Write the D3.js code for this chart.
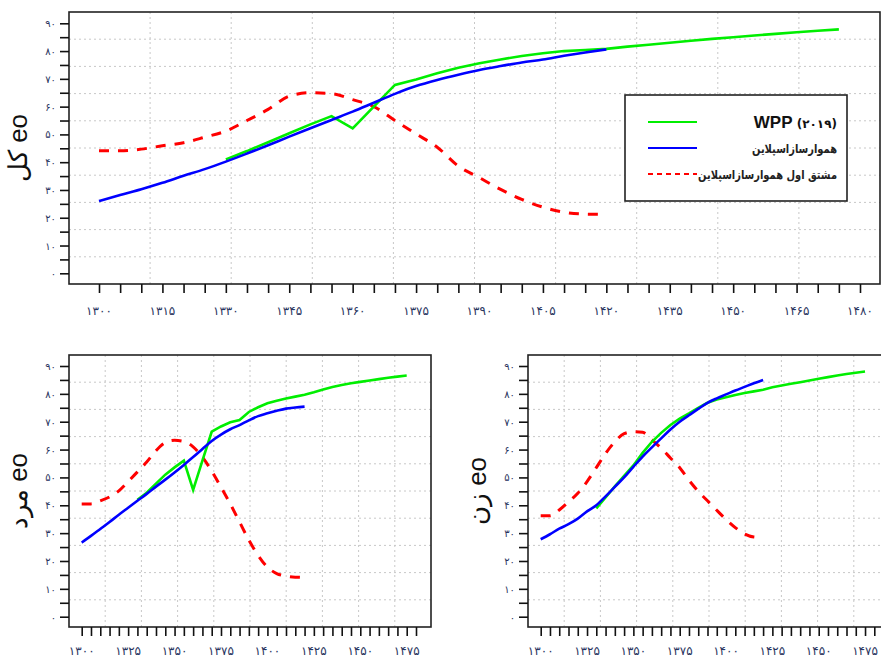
<!DOCTYPE html>
<html>
<head>
<meta charset="utf-8">
<script src="https://cdn.jsdelivr.net/npm/d3@7"></script>
<style>
  body { margin: 0; background: #fff; }
  svg { display: block; font-family: "DejaVu Sans", sans-serif; }
</style>
</head>
<body>
<div id="chart"></div>
<script>
var svgWidth = 881;
var svgHeight = 659;

// years of the spline series and of the WPP series
var splineYears = [1300, 1305, 1310, 1315, 1320, 1325, 1330, 1335, 1340, 1345, 1350, 1355, 1360,
  1365, 1370, 1375, 1380, 1385, 1390, 1395, 1400, 1405, 1410, 1415, 1420];
var wppYears = [1330, 1335, 1340, 1345, 1350, 1355, 1360, 1365, 1370, 1375, 1380, 1385, 1390,
  1395, 1400, 1405, 1410, 1415, 1420, 1425, 1430, 1435, 1440, 1445, 1450, 1455, 1460, 1465, 1470, 1475];

// total
var totalWpp = [41.0, 44.0, 47.2, 50.4, 53.6, 56.6, 52.2, 60.0, 67.8, 69.8, 72.0, 74.0, 75.6,
  77.0, 78.2, 79.2, 80.0, 80.4, 80.8, 81.6, 82.3, 83.0, 83.7, 84.4, 85.0, 85.6, 86.2, 86.8, 87.3, 87.8];
var totalSpline = [26.0, 28.2, 30.3, 32.6, 35.1, 37.5, 40.2, 43.1, 46.1, 49.2, 52.2, 55.2, 58.2,
  61.4, 64.6, 67.4, 69.6, 71.5, 73.2, 74.6, 75.9, 77.0, 78.3, 79.5, 80.6];
var totalDeriv = [44.1, 44.1, 44.7, 45.9, 47.0, 49.0, 51.2, 55.0, 59.0, 63.8, 65.0, 64.7, 62.5,
  60.0, 55.0, 50.2, 45.4, 38.6, 34.4, 30.2, 26.6, 23.8, 22.0, 21.3, 21.2];

// male
var maleWpp = [42.0, 44.5, 47.8, 51.0, 53.6, 56.0, 45.5, 56.0, 66.4, 68.3, 69.8, 70.6, 73.5,
  75.2, 76.6, 77.5, 78.3, 79.0, 79.7, 80.6, 81.6, 82.5, 83.2, 83.8, 84.3, 84.8, 85.3, 85.8, 86.2, 86.6];
var maleSpline = [26.6, 29.0, 31.5, 34.0, 36.6, 39.1, 41.6, 44.1, 46.7, 49.2, 51.8, 54.5, 57.3,
  60.2, 63.1, 65.4, 67.3, 68.8, 70.5, 72.0, 73.0, 73.9, 74.7, 75.1, 75.4];
var maleDeriv = [40.5, 40.5, 41.6, 43.0, 45.2, 48.5, 52.0, 55.5, 59.6, 62.5, 63.3, 62.9, 61.0,
  57.3, 52.3, 46.5, 40.5, 34.0, 27.5, 22.0, 17.8, 15.5, 14.6, 14.2, 14.1];

// female
var femaleWpp = [38.9, 42.8, 46.8, 50.6, 54.3, 58.8, 62.8, 66.0, 68.8, 71.1, 73.0, 75.0, 76.8,
  78.0, 78.8, 79.6, 80.3, 80.9, 81.5, 82.4, 83.0, 83.6, 84.2, 84.8, 85.4, 86.0, 86.6, 87.1, 87.6, 88.0];
var femaleSpline = [27.8, 29.6, 31.6, 33.2, 35.2, 37.8, 40.0, 43.2, 46.6, 50.0, 53.8, 57.5, 60.8,
  64.0, 67.2, 70.0, 72.3, 74.6, 76.8, 78.4, 79.8, 81.2, 82.5, 83.8, 85.0];
var femaleDeriv = [36.2, 36.2, 38.3, 41.2, 44.3, 48.5, 53.5, 58.6, 62.8, 65.7, 66.4, 66.2, 63.5,
  60.5, 57.0, 53.5, 49.0, 45.0, 41.6, 38.2, 34.9, 32.0, 29.7, 28.6, 28.4];

// tick labels
var topXLabels = [1300, 1315, 1330, 1345, 1360, 1375, 1390, 1405, 1420, 1435, 1450, 1465, 1480];
var bottomXLabels = [1300, 1325, 1350, 1375, 1400, 1425, 1450, 1475];
var yLabels = [0, 10, 20, 30, 40, 50, 60, 70, 80, 90];

var legendLabels = ["WPP", "هموارسازاسپلاین", "مشتق اول هموارسازاسپلاین"];

var svg = d3.select("#chart")
  .append("svg")
  .attr("width", svgWidth)
  .attr("height", svgHeight);

function toFa(n) {
  return String(n).replace(/[0-9]/g, d => "۰۱۲۳۴۵۶۷۸۹"[+d]);
}

function drawPanel(p) {
  var x = d3.scaleLinear().domain([1300, 1480]).range(p.xRange);
  var y = d3.scaleLinear().domain([0, 90]).range(p.yRange);
  var g = svg.append("g");

  // dotted grid: 10 equal cells inside the box
  for (var i = 1; i < 10; i++) {
    var gx = p.left + (p.right - p.left) * i / 10;
    var gy = p.top + (p.bottom - p.top) * i / 10;
    g.append("line").attr("class", "grid")
      .attr("x1", gx).attr("x2", gx).attr("y1", p.top).attr("y2", p.bottom);
    g.append("line").attr("class", "grid")
      .attr("x1", p.left).attr("x2", p.right).attr("y1", gy).attr("y2", gy);
  }
  g.selectAll(".grid")
    .attr("stroke", "#c8c8c8")
    .attr("stroke-width", 1)
    .attr("stroke-dasharray", "2,3");

  var line = d3.line()
    .x((d, i) => x(d[0]))
    .y(d => y(d[1]));

  g.append("path")
    .datum(d3.zip(splineYears, p.deriv))
    .attr("fill", "none")
    .attr("stroke", "#ff0000")
    .attr("stroke-width", 3)
    .attr("stroke-dasharray", "10,9")
    .attr("d", line.curve(d3.curveMonotoneX));

  g.append("path")
    .datum(d3.zip(wppYears, p.wpp))
    .attr("fill", "none")
    .attr("stroke", "#00ee00")
    .attr("stroke-width", 2.6)
    .attr("d", line.curve(d3.curveLinear));

  g.append("path")
    .datum(d3.zip(splineYears, p.spline))
    .attr("fill", "none")
    .attr("stroke", "#0000ff")
    .attr("stroke-width", 2.6)
    .attr("d", line.curve(d3.curveMonotoneX));

  // box
  g.append("rect")
    .attr("x", p.left).attr("y", p.top)
    .attr("width", p.right - p.left).attr("height", p.bottom - p.top)
    .attr("fill", "none")
    .attr("stroke", "#222")
    .attr("stroke-width", 1.6);

  // x axis ticks every 5 years, hanging below the box
  var xAxis = d3.axisBottom(x)
    .tickValues(d3.range(1300, 1481, 5))
    .tickSize(9)
    .tickFormat("");
  var xg = g.append("g")
    .attr("transform", `translate(0, ${p.bottom})`)
    .call(xAxis);
  xg.select(".domain").remove();
  xg.selectAll("line").attr("stroke", "#111").attr("stroke-width", 1.6);

  g.selectAll(".xlab")
    .data(p.xLabels)
    .enter()
    .append("text")
    .attr("class", "xlab")
    .attr("x", d => x(d))
    .attr("y", p.bottom + p.labelGap)
    .attr("text-anchor", "middle")
    .attr("font-size", 12)
    .attr("fill", "#2a3560")
    .text(d => toFa(d));

  var yAxis = d3.axisLeft(y)
    .tickValues(d3.range(0, 91, 5))
    .tickSize(9)
    .tickFormat("");
  var yg = g.append("g")
    .attr("transform", `translate(${p.left}, 0)`)
    .call(yAxis);
  yg.select(".domain").remove();
  yg.selectAll("line").attr("stroke", "#111").attr("stroke-width", 1.6);

  g.selectAll(".ylab")
    .data(yLabels)
    .enter()
    .append("text")
    .attr("class", "ylab")
    .attr("x", p.left - 13)
    .attr("y", d => y(d) + 4)
    .attr("text-anchor", "end")
    .attr("font-size", 10)
    .attr("fill", "#2a3560")
    .text(d => toFa(d));

  g.append("text")
    .attr("transform", `translate(${p.titleX}, ${(p.top + p.bottom) / 2}) rotate(-90)`)
    .attr("text-anchor", "middle")
    .attr("font-family", "Liberation Sans, Arial, sans-serif")
    .attr("font-size", 26)
    .attr("fill", "#111")
    .text(p.title);

  return g;
}

drawPanel({
  left: 69, right: 880, top: 12, bottom: 284,
  xRange: [99, 860], yRange: [273.3, 23.3],
  xLabels: topXLabels, labelGap: 31,
  wpp: totalWpp, spline: totalSpline, deriv: totalDeriv,
  title: "کل eo", titleX: 27
});

drawPanel({
  left: 69, right: 431, top: 355, bottom: 627,
  xRange: [81.7, 416], yRange: [616.7, 366],
  xLabels: bottomXLabels, labelGap: 28,
  wpp: maleWpp, spline: maleSpline, deriv: maleDeriv,
  title: "مرد eo", titleX: 27
});

drawPanel({
  left: 528, right: 890, top: 355, bottom: 627,
  xRange: [540.7, 874.3], yRange: [616.7, 366],
  xLabels: bottomXLabels, labelGap: 28,
  wpp: femaleWpp, spline: femaleSpline, deriv: femaleDeriv,
  title: "زن eo", titleX: 486
});

// legend in the top panel
var legend = svg.append("g");
legend.append("rect")
  .attr("x", 625).attr("y", 95)
  .attr("width", 222).attr("height", 106)
  .attr("fill", "#fff")
  .attr("stroke", "#222")
  .attr("stroke-width", 1.6);

var legendStyles = [
  {color: "#00ee00", dash: null},
  {color: "#0000ff", dash: null},
  {color: "#ff0000", dash: "5,4"}
];
var legendRows = [122, 148, 174];

legendStyles.forEach(function(s, i) {
  legend.append("line")
    .attr("x1", 648).attr("x2", 697)
    .attr("y1", legendRows[i]).attr("y2", legendRows[i])
    .attr("stroke", s.color)
    .attr("stroke-width", 1.8)
    .attr("stroke-dasharray", s.dash);
});

var wppText = legend.append("text")
  .attr("x", 837).attr("y", legendRows[0] + 6)
  .attr("text-anchor", "end")
  .attr("fill", "#111");
wppText.append("tspan")
  .attr("font-family", "Liberation Sans, Arial, sans-serif")
  .attr("font-weight", "bold")
  .attr("font-size", 17)
  .text(legendLabels[0]);
wppText.append("tspan")
  .attr("font-size", 12)
  .attr("font-weight", "bold")
  .text(" (" + toFa(2019) + ")");

// persian rows squeezed a little horizontally, as in the original
legend.selectAll(".legtext")
  .data(legendLabels.slice(1))
  .enter()
  .append("text")
  .attr("class", "legtext")
  .attr("transform", (d, i) => `translate(837, ${legendRows[i + 1] + 5}) scale(0.79, 1)`)
  .attr("text-anchor", "end")
  .attr("font-size", 12.5)
  .attr("font-weight", "bold")
  .attr("fill", "#222")
  .text(d => d);
</script>
</body>
</html>
